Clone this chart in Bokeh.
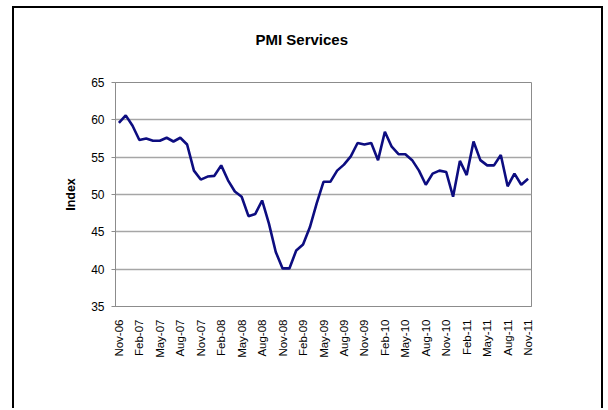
from bokeh.plotting import figure
from bokeh.models import FixedTicker, Range1d, Title
from bokeh.embed import file_html
from bokeh.resources import INLINE

# ---- data ----
months = [
    "Nov-06", "Dec-06", "Jan-07", "Feb-07", "Mar-07", "Apr-07", "May-07", "Jun-07", "Jul-07", "Aug-07",
    "Sep-07", "Oct-07", "Nov-07", "Dec-07", "Jan-08", "Feb-08", "Mar-08", "Apr-08", "May-08", "Jun-08",
    "Jul-08", "Aug-08", "Sep-08", "Oct-08", "Nov-08", "Dec-08", "Jan-09", "Feb-09", "Mar-09", "Apr-09",
    "May-09", "Jun-09", "Jul-09", "Aug-09", "Sep-09", "Oct-09", "Nov-09", "Dec-09", "Jan-10", "Feb-10",
    "Mar-10", "Apr-10", "May-10", "Jun-10", "Jul-10", "Aug-10", "Sep-10", "Oct-10", "Nov-10", "Dec-10",
    "Jan-11", "Feb-11", "Mar-11", "Apr-11", "May-11", "Jun-11", "Jul-11", "Aug-11", "Sep-11", "Oct-11",
    "Nov-11",
]
pmi_services = [
    59.6, 60.6, 59.2, 57.3, 57.5, 57.2, 57.2, 57.6, 57.1, 57.6,
    56.7, 53.2, 52.0, 52.4, 52.5, 53.9, 51.9, 50.4, 49.7, 47.1,
    47.4, 49.2, 46.1, 42.3, 40.1, 40.1, 42.5, 43.3, 45.6, 48.8,
    51.7, 51.7, 53.2, 54.0, 55.1, 56.9, 56.7, 56.9, 54.6, 58.4,
    56.4, 55.4, 55.4, 54.6, 53.2, 51.3, 52.8, 53.2, 53.0, 49.7,
    54.5, 52.6, 57.1, 54.6, 53.9, 53.9, 55.3, 51.1, 52.8, 51.3,
    52.1,
]
y_ticks = [35, 40, 45, 50, 55, 60, 65]
title_text = "PMI Services"
y_label = "Index"

x_idx = list(range(len(months)))
x_tick_idx = x_idx[::3]

FONT = "Liberation Sans"

p = figure(width=591, height=402, output_backend="svg", toolbar_location=None,
           x_range=Range1d(-0.5, len(months) - 0.5), y_range=Range1d(35, 65),
           min_border_left=101, min_border_right=74, min_border_top=74, min_border_bottom=104)
p.styles = {"margin-left": "12px", "margin-top": "6px",
            "border-left": "2px solid black", "border-top": "2px solid black",
            "border-right": "2px solid black"}

p.background_fill_color = "white"
p.border_fill_color = "white"
p.outline_line_color = "#8c8c8c"
p.outline_line_width = 1

# spacer panel between frame and title
p.add_layout(Title(text=" ", text_font=FONT, text_font_size="15px", standoff=16), "above")

# title
p.title.text = title_text
p.title.align = "left"
p.title.offset = 140
p.title.text_font = FONT
p.title.text_font_size = "15px"
p.title.text_font_style = "bold"
p.title.text_color = "black"
p.title.standoff = 0

p.line(x_idx, pmi_services, line_color="#0d0d80", line_width=2.6)

# y axis
p.yaxis.ticker = FixedTicker(ticks=y_ticks)
p.yaxis.axis_line_color = "#8c8c8c"
p.yaxis.major_tick_line_color = "#8c8c8c"
p.yaxis.major_tick_out = 4
p.yaxis.major_tick_in = 0
p.yaxis.minor_tick_line_color = None
p.yaxis.major_label_text_font = FONT
p.yaxis.major_label_text_font_size = "12px"
p.yaxis.major_label_text_color = "black"
p.yaxis.major_label_standoff = 7
p.yaxis.axis_label = y_label
p.yaxis.axis_label_text_font = FONT
p.yaxis.axis_label_text_font_size = "12.5px"
p.yaxis.axis_label_text_font_style = "bold"
p.yaxis.axis_label_text_color = "black"
p.yaxis.axis_label_standoff = 10

# x axis
p.xaxis.ticker = FixedTicker(ticks=x_tick_idx)
p.xaxis.major_label_overrides = {i: months[i] for i in x_tick_idx}
p.xaxis.major_label_orientation = 1.5708
p.xaxis.axis_line_color = "#8c8c8c"
p.xaxis.major_tick_line_color = None
p.xaxis.minor_tick_line_color = None
p.xaxis.major_label_text_font = FONT
p.xaxis.major_label_text_font_size = "11.5px"
p.xaxis.major_label_text_color = "black"
p.xaxis.major_label_standoff = 7

# grid
p.xgrid.grid_line_color = None
p.ygrid.grid_line_color = "#a6a6a6"
p.ygrid.grid_line_width = 1.3

open("out.html", "w").write(file_html(p, INLINE))
